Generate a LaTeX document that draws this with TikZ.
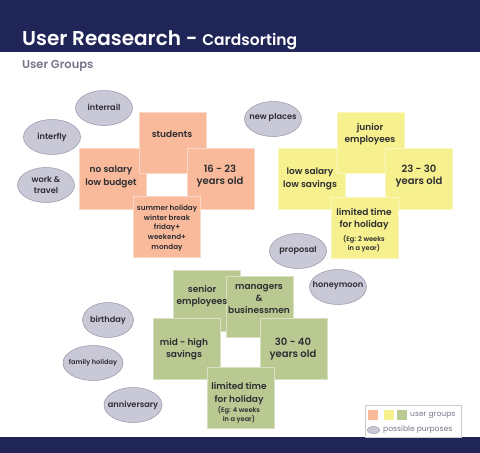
\documentclass[tikz,border=0pt]{standalone}
\usepackage{fontspec}
\setmainfont{Poppins}[UprightFont={* SemiBold}, BoldFont={* Bold}]
\newfontfamily\legendfont{Poppins}
\usetikzlibrary{shapes.geometric}
\definecolor{navy}{RGB}{32,37,88}
\definecolor{orangeN}{RGB}{248,186,155}
\definecolor{yellowN}{RGB}{246,240,142}
\definecolor{greenN}{RGB}{186,201,146}
\definecolor{ellF}{RGB}{201,200,215}
\definecolor{ellD}{RGB}{150,149,168}
\definecolor{txt}{RGB}{45,45,50}
\definecolor{subg}{RGB}{120,119,138}
\begin{document}
\begin{tikzpicture}[x=1pt,y=-1pt,
  note/.style={fill=#1, draw=#1!55!white, line width=0.7pt, minimum width=67pt, minimum height=61pt, inner sep=0pt, anchor=north west},
  ntext/.style={text=txt, align=center, font=\fontsize{9}{12.3}\selectfont, inner sep=0pt},
  nbig/.style={text=txt, align=center, font=\fontsize{10}{12.8}\selectfont, inner sep=0pt},
  nsmall/.style={text=txt, align=center, font=\fontsize{7.2}{9.8}\selectfont, inner sep=0pt},
  ntiny/.style={text=txt, align=center, font=\fontsize{6.6}{9}\selectfont, inner sep=0pt},
  purpose/.style={ellipse, fill=ellF, draw=ellD, line width=0.5pt, minimum width=57pt, minimum height=35pt, inner sep=0pt},
  ptext/.style={text=txt, align=center, inner sep=0pt, font=\fontsize{8.2}{11}\selectfont},
  legtext/.style={anchor=west, text=subg, inner sep=0pt, font=\legendfont\fontsize{7.6}{8}\selectfont},
]
\useasboundingbox (0,0) rectangle (480,453);
\fill[white] (0,0) rectangle (480,453);
\fill[navy] (0,0) rectangle (480,52);
\fill[navy] (0,437) rectangle (480,453);
\node[anchor=base west, text=white, inner sep=0pt, font=\fontsize{20}{24}\selectfont] (title) at (22,45) {User Reasearch - {\fontsize{15.5}{16}\selectfont Cardsorting}};
\node[anchor=west, text=subg, inner sep=0pt, font=\fontsize{11.5}{13}\selectfont] (sub) at (22,66) {User Groups};

% purposes
\node[purpose] (interrail) at (104,108) {};
\node[ptext] (tinterrail) at (104,107) {interrail};
\node[purpose] (interfly) at (52,137) {};
\node[ptext] (tinterfly) at (52,137) {interfly};
\node[purpose] (work) at (46,185) {};
\node[ptext] (twork) at (46,185) {work \&\\travel};
\node[purpose] (newplaces) at (273,119) {};
\node[ptext] (tnewplaces) at (273,118) {new places};
\node[purpose] (proposal) at (298,251) {};
\node[ptext] (tproposal) at (298,251) {proposal};
\node[purpose] (honeymoon) at (338,287) {};
\node[ptext] (thoneymoon) at (338,286) {honeymoon};
\node[purpose, minimum width=51pt] (birthday) at (108,320) {};
\node[ptext] (tbirthday) at (108,320) {birthday};
\node[purpose, minimum width=60pt] (family) at (93,363) {};
\node[ptext, font=\fontsize{6.6}{8}\selectfont] (tfamily) at (93,363) {family holiday};
\node[purpose, minimum width=58pt] (anniv) at (133,405) {};
\node[ptext] (tanniv) at (133,405) {anniversary};

% students group
\node[note=orangeN] (nosalary) at (79,148) {};
\node[note=orangeN] (students) at (139,112) {};
\node[note=orangeN] (age1) at (187,148) {};
\node[note=orangeN] (summer) at (133,196) {};
\node[ntext] (tstudents) at (172,134) {students};
\node[ntext] (tnosalary) at (111,177) {no salary\\low budget};
\node[nbig] (tage1) at (220,176) {16 - 23\\years old};
\node[nsmall] (tsummer) at (167,228) {summer holiday\\winter break\\friday+\\weekend+\\monday};

% junior group
\node[note=yellowN] (lowsal) at (278,148) {};
\node[note=yellowN] (junior) at (337,112) {};
\node[note=yellowN] (age2) at (385,148) {};
\node[note=yellowN] (lim1) at (331,197) {};
\node[ntext] (tjunior) at (370,134.5) {junior\\employees};
\node[ntext] (tlowsal) at (310,179) {low salary\\low savings};
\node[nbig] (tage2) at (419,176) {23 - 30\\years old};
\node[ntext] (tlim1) at (364,219) {limited time\\for holiday};
\node[ntiny] (tlim1b) at (364,243.5) {(Eg: 2 weeks\\in a year)};

% senior group
\node[note=greenN] (senior) at (173,270) {};
\node[note=greenN] (managers) at (226,276) {};
\node[note=greenN] (midhigh) at (153,318) {};
\node[note=greenN] (age3) at (260,318) {};
\node[note=greenN] (lim2) at (207,367) {};
\node[ntext] (tsenior) at (202,296) {senior\\employees};
\node[ntext, font=\fontsize{9}{11.8}\selectfont] (tmanagers) at (259,299) {managers\\\&\\businessmen};
\node[ntext] (tmidhigh) at (184,349) {mid - high\\savings};
\node[nbig] (tage3) at (293,349) {30 - 40\\years old};
\node[ntext] (tlim2) at (239,393.5) {limited time\\for holiday};
\node[ntiny] (tlim2b) at (239,415) {(Eg: 4 weeks\\in a year)};

% legend
\node[draw=black!20, fill=white, line width=0.5pt, minimum width=96pt, minimum height=32pt, inner sep=0pt, anchor=north west] (legend) at (365,405) {};
\node[fill=orangeN, minimum size=10pt, inner sep=0pt] (lo) at (373,415) {};
\node[fill=yellowN, minimum size=10pt, inner sep=0pt] (ly) at (389,415) {};
\node[fill=greenN, minimum size=10pt, inner sep=0pt] (lg) at (402,415) {};
\node[legtext] (lug) at (410,415) {user groups};
\node[ellipse, fill=ellF, draw=ellD, line width=0.4pt, minimum width=13pt, minimum height=7pt, inner sep=0pt] (le) at (373.5,430) {};
\node[legtext] (lpp) at (383,430) {possible purposes};
\end{tikzpicture}
\end{document}
